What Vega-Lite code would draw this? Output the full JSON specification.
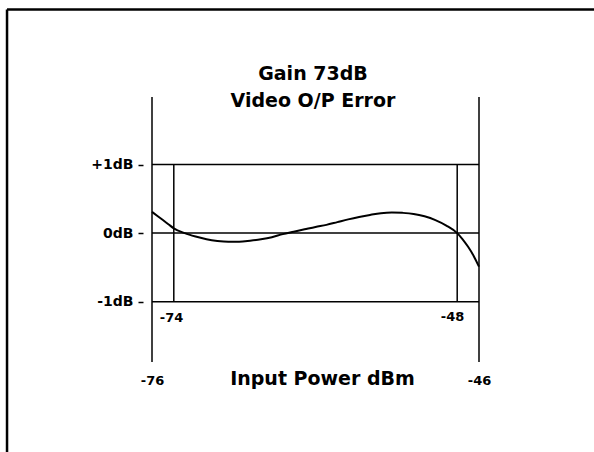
{
  "$schema": "https://vega.github.io/schema/vega-lite/v6.json",
  "width": 327,
  "height": 265,
  "autosize": {"type": "none"},
  "padding": {"left": 152, "top": 97, "right": 115, "bottom": 90},
  "background": "white",
  "config": {"view": {"stroke": null}, "font": "DejaVu Sans"},
  "layer": [
    {
      "data": {"values": [
        {"part": "left", "x": -89.3, "x2": -89.3, "y": 3.26, "y2": -3.4},
        {"part": "top", "x": -89.3, "x2": -35.0, "y": 3.26, "y2": 3.26}
      ]},
      "mark": {"type": "rule", "color": "black", "strokeWidth": 2.5, "clip": false},
      "encoding": {
        "x": {"field": "x", "type": "quantitative", "scale": {"domain": [-76, -46], "nice": false, "zero": false}},
        "x2": {"field": "x2"},
        "y": {"field": "y", "type": "quantitative", "scale": {"domain": [-1.88, 1.985], "nice": false, "zero": false}},
        "y2": {"field": "y2"}
      }
    },
    {
      "data": {"values": [{"v": 1}, {"v": 0}, {"v": -1}]},
      "mark": {"type": "rule", "color": "black", "strokeWidth": 1.5},
      "encoding": {
        "y": {"field": "v", "type": "quantitative"},
        "x": {"datum": -76},
        "x2": {"datum": -46}
      }
    },
    {
      "data": {"values": [{"v": -76}, {"v": -46}]},
      "mark": {"type": "rule", "color": "black", "strokeWidth": 1.5},
      "encoding": {
        "x": {"field": "v", "type": "quantitative"},
        "y": {"datum": 1.985},
        "y2": {"datum": -1.88}
      }
    },
    {
      "data": {"values": [{"v": -74}, {"v": -48}]},
      "mark": {"type": "rule", "color": "black", "strokeWidth": 1.5},
      "encoding": {
        "x": {"field": "v", "type": "quantitative"},
        "y": {"datum": 1},
        "y2": {"datum": -1}
      }
    },
    {
      "data": {"values": [
        {"p": -76, "e": 0.31}, {"p": -75.5, "e": 0.25}, {"p": -75, "e": 0.19},
        {"p": -74.5, "e": 0.13}, {"p": -74, "e": 0.07}, {"p": -73, "e": 0.0},
        {"p": -72, "e": -0.05}, {"p": -71, "e": -0.09}, {"p": -70, "e": -0.115},
        {"p": -69, "e": -0.127}, {"p": -68, "e": -0.125}, {"p": -67, "e": -0.11},
        {"p": -66, "e": -0.09}, {"p": -65, "e": -0.06}, {"p": -64, "e": -0.015},
        {"p": -63, "e": 0.02}, {"p": -62, "e": 0.055}, {"p": -61, "e": 0.09},
        {"p": -60, "e": 0.12}, {"p": -59, "e": 0.16}, {"p": -58, "e": 0.2},
        {"p": -57, "e": 0.235}, {"p": -56, "e": 0.265}, {"p": -55, "e": 0.29},
        {"p": -54, "e": 0.3}, {"p": -53, "e": 0.295}, {"p": -52, "e": 0.28},
        {"p": -51, "e": 0.245}, {"p": -50, "e": 0.19}, {"p": -49, "e": 0.11},
        {"p": -48, "e": 0.0}, {"p": -47.5, "e": -0.09}, {"p": -47, "e": -0.2},
        {"p": -46.5, "e": -0.33}, {"p": -46, "e": -0.49}
      ]},
      "mark": {"type": "line", "color": "black", "strokeWidth": 2, "interpolate": "monotone"},
      "encoding": {
        "x": {
          "field": "p", "type": "quantitative",
          "axis": {
            "values": [-76, -46],
            "labelExpr": "'' + datum.value",
            "labelFlush": false,
            "domain": false, "ticks": false, "grid": false,
            "labelFontSize": 13, "labelFontWeight": "bold", "labelColor": "black",
            "labelPadding": 12,
            "title": "Input Power dBm",
            "titleFontSize": 19, "titleFontWeight": "bold", "titleColor": "black",
            "titleX": 170, "titleY": 22, "titleBaseline": "alphabetic"
          }
        },
        "y": {
          "field": "e", "type": "quantitative",
          "axis": {
            "values": [1, 0, -1],
            "labelExpr": "datum.value > 0 ? '+' + datum.value + 'dB' : datum.value + 'dB'",
            "domain": false, "grid": false,
            "offset": 9, "tickSize": 5, "tickColor": "black", "tickWidth": 1.5,
            "labelFontSize": 14, "labelFontWeight": "bold", "labelColor": "black",
            "labelPadding": 5,
            "title": null
          }
        }
      }
    },
    {
      "data": {"values": [
        {"label": "-74", "p": -74.21, "e": -1.24},
        {"label": "-48", "p": -48.43, "e": -1.23}
      ]},
      "mark": {"type": "text", "fontSize": 13, "fontWeight": "bold", "color": "black", "baseline": "middle", "align": "center"},
      "encoding": {
        "x": {"field": "p", "type": "quantitative"},
        "y": {"field": "e", "type": "quantitative"},
        "text": {"field": "label"}
      }
    },
    {
      "data": {"values": [
        {"label": "Gain 73dB", "p": -61.23, "e": 2.234},
        {"label": "Video O/P Error", "p": -61.23, "e": 1.839}
      ]},
      "mark": {"type": "text", "fontSize": 19, "fontWeight": "bold", "color": "black", "baseline": "alphabetic", "align": "center", "clip": false},
      "encoding": {
        "x": {"field": "p", "type": "quantitative"},
        "y": {"field": "e", "type": "quantitative"},
        "text": {"field": "label"}
      }
    }
  ]
}
